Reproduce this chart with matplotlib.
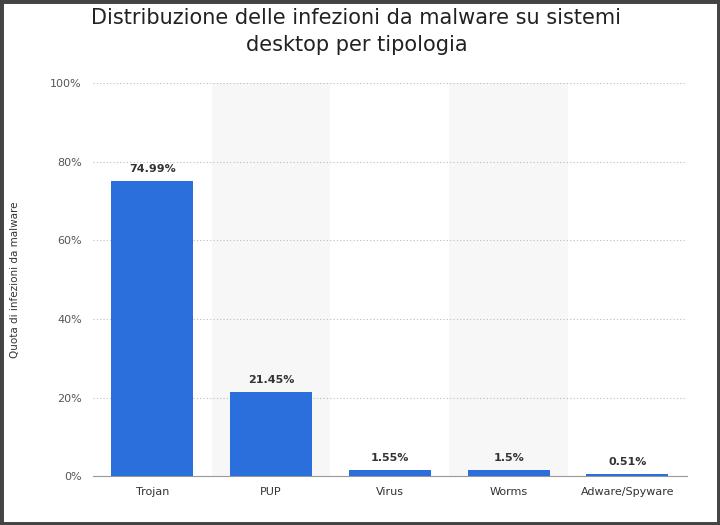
import matplotlib
matplotlib.use("Agg")
import matplotlib.pyplot as plt
from matplotlib.patches import Rectangle

categories = ["Trojan", "PUP", "Virus", "Worms", "Adware/Spyware"]
values = [74.99, 21.45, 1.55, 1.5, 0.51]
labels = ["74.99%", "21.45%", "1.55%", "1.5%", "0.51%"]
yticks = [0, 20, 40, 60, 80, 100]
yticklabels = ["0%", "20%", "40%", "60%", "80%", "100%"]

fig = plt.figure(figsize=(7.2, 5.25), dpi=100)
fig.patches.append(Rectangle((0, 0), 1, 1, transform=fig.transFigure, fill=False,
                             edgecolor="#444444", linewidth=5))
ax = fig.add_axes([0.129, 0.093, 0.825, 0.749])
x = range(len(categories))
for i in x:
    if i % 2 == 1:
        ax.axvspan(i - 0.5, i + 0.5, facecolor="#f7f7f7", edgecolor="none", zorder=0)
ax.bar(x, values, width=0.69, color="#2a6fdb", zorder=3)
for i, (v, l) in enumerate(zip(values, labels)):
    ax.text(i, v + 1.8, l, ha="center", va="bottom", fontsize=8, fontweight="bold", color="#333333")
ax.set_xlim(-0.5, 4.5)
ax.set_ylim(0, 100)
ax.set_yticks(yticks)
ax.set_yticklabels(yticklabels, fontsize=8, color="#555555")
ax.set_xticks(list(x))
ax.set_xticklabels(categories, fontsize=8, color="#333333")
ax.tick_params(length=0, pad=8)
ax.grid(axis="y", linestyle=(0, (1, 2)), color="#bbbbbb", linewidth=0.8, zorder=1)
for s in ["top", "right", "left"]:
    ax.spines[s].set_visible(False)
ax.spines["bottom"].set_color("#999999")
ax.set_ylabel("Quota di infezioni da malware", fontsize=7.5, color="#333333", labelpad=22)
fig.text(0.495, 0.895, "Distribuzione delle infezioni da malware su sistemi\ndesktop per tipologia",
         ha="center", va="bottom", fontsize=15, color="#222222", linespacing=1.45)
fig.savefig("out.png", dpi=100)
